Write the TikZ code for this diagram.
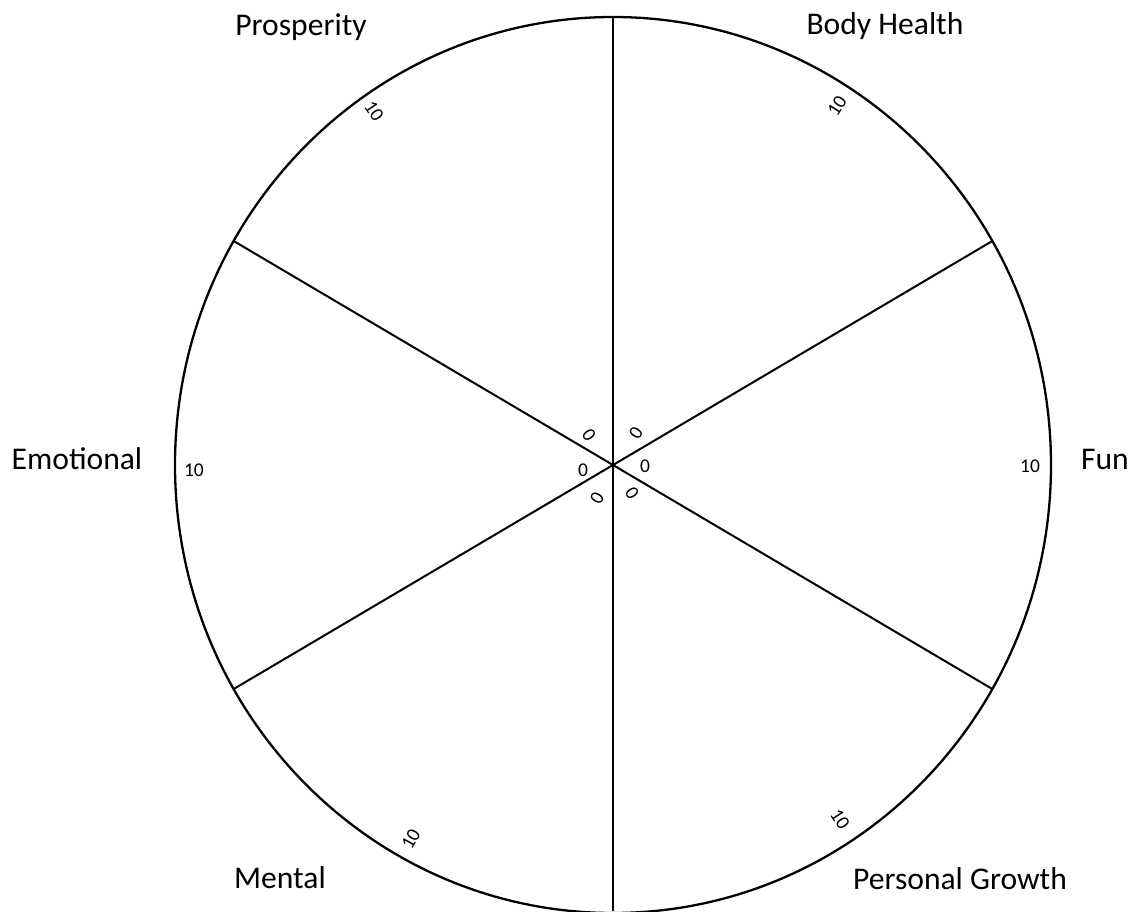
\documentclass[tikz,border=0pt]{standalone}
\usepackage{fontspec}
\setmainfont{Carlito}
\usetikzlibrary{calc}
\tikzset{
  arealabel/.style={font=\fontsize{31.6}{38}\selectfont, inner sep=0pt, anchor=base},
  scorelabel/.style={font=\fontsize{19.5}{23}\selectfont, inner sep=0pt},
  wheel/.style={line width=2pt, black}
}

\begin{document}
\begin{tikzpicture}[x=1pt, y=1pt]
\useasboundingbox (-613,-446) rectangle (519,465);

% wheel outline and spokes
\coordinate (Centro) at (0,0);
\draw[wheel, line width=2.3pt] (Centro) ellipse [x radius=438pt, y radius=448pt];

\coordinate (Top) at (90:438pt and 448pt);
\coordinate (Bottom) at (0,-446);
\coordinate (UpRight) at (30:438pt and 448pt);
\coordinate (UpLeft) at (150:438pt and 448pt);
\coordinate (LowLeft) at (210:438pt and 448pt);
\coordinate (LowRight) at (330:438pt and 448pt);

\draw[wheel] (Top) -- (Bottom);
\draw[wheel] (UpRight) -- (LowLeft);
\draw[wheel] (UpLeft) -- (LowRight);

% areas
\node[arealabel] (Prosperity) at (-312,429) {Prosperity};
\node[arealabel] (Body) at (272,430) {Body Health};
\node[arealabel] (Fun) at (492,-4) {Fun};
\node[arealabel] (Emotional) at (-536,-4) {Emotional};
\node[arealabel] (Mental) at (-333,-423) {Mental};
\node[arealabel] (Growth) at (347,-424) {Personal Growth};

% scale ends: 10
\node[scorelabel, rotate=-56] (ProsperityTen) at (-239,354) {10};
\node[scorelabel, rotate=58] (BodyTen) at (224,359) {10};
\node[scorelabel] (FunTen) at (417,-1) {10};
\node[scorelabel] (EmotionalTen) at (-419,-5) {10};
\node[scorelabel, rotate=61] (MentalTen) at (-202,-374) {10};
\node[scorelabel, rotate=-57] (GrowthTen) at (227,-354) {10};

% scale starts: 0
\node[scorelabel, rotate=-56] (ProsperityZero) at (-24,30) {0};
\node[scorelabel, rotate=58] (BodyZero) at (23,32) {0};
\node[scorelabel] (FunZero) at (32,-1) {0};
\node[scorelabel] (EmotionalZero) at (-30,-5) {0};
\node[scorelabel, rotate=61] (MentalZero) at (-16,-33) {0};
\node[scorelabel, rotate=-57] (GrowthZero) at (19,-28) {0};

\end{tikzpicture}
\end{document}
